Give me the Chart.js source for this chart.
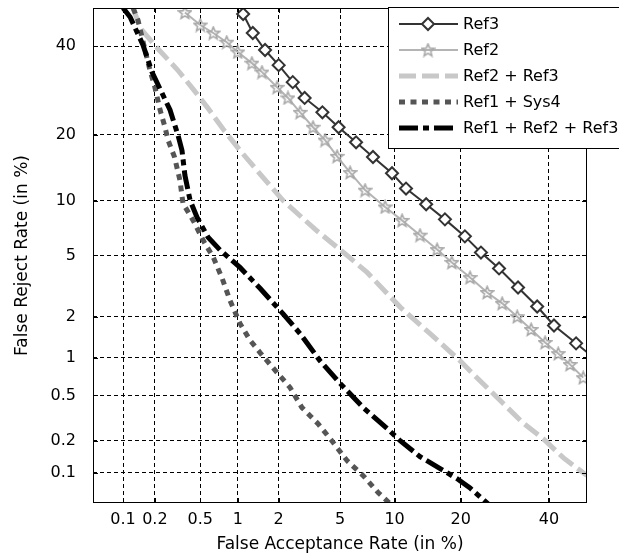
<!DOCTYPE html>
<html>
<head>
<meta charset="utf-8">
<title>DET curves</title>
<script src="https://cdn.jsdelivr.net/npm/chart.js@4.4.0/dist/chart.umd.min.js"></script>
<style>
  html, body { margin: 0; padding: 0; background: #fff; }
</style>
</head>
<body>
<canvas id="det" width="619" height="555"></canvas>
<script>
// axis ticks (in %) and range of both probit axes
const xTicks = [0.1, 0.2, 0.5, 1, 2, 5, 10, 20, 40];
const yTicks = [0.1, 0.2, 0.5, 1, 2, 5, 10, 20, 40];
const axisMin = 0.05;
const axisMax = 50;

// False Acceptance Rate / False Reject Rate per system (in %)
const ref3Far = [1.1, 1.3, 1.6, 2.0, 2.5, 3.0, 3.9, 4.9, 6.2, 7.7, 9.7, 11.4, 14.2, 17.2, 20.8, 24.0, 27.9, 32.3, 37.0, 41.3, 47.1, 54];
const ref3Frr = [48.4, 43.4, 39.0, 35.2, 31.1, 27.5, 24.4, 21.4, 18.6, 16.1, 13.6, 11.5, 9.6, 8.0, 6.45, 5.2, 4.17, 3.16, 2.36, 1.74, 1.29, 0.89];

const ref2Far = [0.37, 0.50, 0.64, 0.82, 1.0, 1.28, 1.52, 1.95, 2.32, 2.80, 3.40, 4.05, 4.8, 5.73, 6.97, 8.93, 10.9, 13.3, 15.9, 18.4, 21.8, 25.3, 28.6, 32.1, 35.5, 39.0, 42.4, 45.5, 49.0];
const ref2Frr = [48.8, 45.5, 43.4, 41.0, 38.5, 35.7, 33.5, 29.9, 27.5, 24.4, 21.4, 19.0, 16.2, 13.7, 11.3, 9.3, 7.9, 6.55, 5.42, 4.54, 3.66, 2.93, 2.48, 2.01, 1.63, 1.31, 1.08, 0.89, 0.70];

const ref23Far = [0.125, 0.146, 0.21, 0.32, 0.435, 0.57, 0.77, 1.04, 1.5, 2.14, 3.5, 5.5, 7.15, 10.7, 14.8, 19.9, 23.8, 28.8, 33.5, 38.5, 43.7, 50];
const ref23Frr = [50, 44.7, 39.5, 34.0, 29.5, 25.5, 21.0, 17.2, 13.3, 10.05, 7.07, 5.0, 3.94, 2.33, 1.52, 0.95, 0.66, 0.43, 0.29, 0.21, 0.14, 0.094];

const ref1sys4Far = [0.125, 0.139, 0.162, 0.18, 0.20, 0.223, 0.247, 0.263, 0.30, 0.335, 0.356, 0.435, 0.53, 0.64, 0.75, 0.87, 1.04, 1.24, 1.47, 1.89, 2.40, 2.88, 3.66, 4.47, 5.5, 6.8, 8.2, 9.5];
const ref1sys4Frr = [50, 46.8, 39.0, 34.0, 29.9, 24.9, 21.4, 19.0, 16.1, 12.6, 9.7, 7.9, 6.1, 4.87, 3.66, 2.6, 1.8, 1.36, 1.10, 0.80, 0.58, 0.395, 0.286, 0.20, 0.131, 0.094, 0.064, 0.049];

const ref123Far = [0.1, 0.117, 0.155, 0.188, 0.21, 0.274, 0.322, 0.349, 0.37, 0.41, 0.47, 0.58, 0.73, 1.04, 1.47, 2.14, 2.80, 3.77, 5.0, 6.8, 9.15, 10.7, 13.3, 16.4, 19.3, 21.8, 25.5];
const ref123Frr = [50, 47.6, 40.3, 33.5, 30.9, 24.9, 19.9, 17.2, 13.3, 10.05, 8.2, 6.37, 5.36, 4.23, 3.12, 2.11, 1.52, 0.95, 0.63, 0.395, 0.26, 0.20, 0.143, 0.11, 0.088, 0.071, 0.049];

const FONT = '"DejaVu Sans", "Liberation Sans", sans-serif';

// inverse normal CDF (Acklam's approximation)
function probit(p) {
  const a = [-3.969683028665376e+01, 2.209460984245205e+02, -2.759285104469687e+02, 1.383577518672690e+02, -3.066479806614716e+01, 2.506628277459239e+00];
  const b = [-5.447609879822406e+01, 1.615858368580409e+02, -1.556989798598866e+02, 6.680131188771972e+01, -1.328068155288572e+01];
  const c = [-7.784894002430293e-03, -3.223964580411365e-01, -2.400758277161838e+00, -2.549732539343734e+00, 4.374664141464968e+00, 2.938163982698783e+00];
  const d = [7.784695709041462e-03, 3.224671290700398e-01, 2.445134137142996e+00, 3.754408661907416e+00];
  const lo = 0.02425;
  if (p < lo) {
    const q = Math.sqrt(-2 * Math.log(p));
    return (((((c[0]*q + c[1])*q + c[2])*q + c[3])*q + c[4])*q + c[5]) / ((((d[0]*q + d[1])*q + d[2])*q + d[3])*q + 1);
  }
  if (p <= 1 - lo) {
    const q = p - 0.5, r = q * q;
    return (((((a[0]*r + a[1])*r + a[2])*r + a[3])*r + a[4])*r + a[5]) * q / (((((b[0]*r + b[1])*r + b[2])*r + b[3])*r + b[4])*r + 1);
  }
  const q = Math.sqrt(-2 * Math.log(1 - p));
  return -(((((c[0]*q + c[1])*q + c[2])*q + c[3])*q + c[4])*q + c[5]) / ((((d[0]*q + d[1])*q + d[2])*q + d[3])*q + 1);
}

function normCdf(z) {
  const t = 1 / (1 + 0.3275911 * Math.abs(z) / Math.SQRT2);
  const e = 1 - (((((1.061405429*t - 1.453152027)*t) + 1.421413741)*t - 0.284496736)*t + 0.254829592) * t * Math.exp(-z*z/2);
  return z >= 0 ? (1 + e) / 2 : (1 - e) / 2;
}

// normal deviate scale, values given in percent
class ProbitScale extends Chart.Scale {
  static id = 'probit';
  static defaults = {};
  determineDataLimits() {
    this.min = this.options.min;
    this.max = this.options.max;
  }
  buildTicks() { return []; }
  getLabelForValue(v) { return String(v); }
  configure() {
    super.configure();
    this._pLo = probit(this.min / 100);
    this._pSpan = probit(this.max / 100) - this._pLo;
  }
  getPixelForValue(v) {
    if (v === null || v === undefined || isNaN(v)) return NaN;
    return this.getPixelForDecimal((probit(v / 100) - this._pLo) / this._pSpan);
  }
  getValueForPixel(px) {
    return normCdf(this._pLo + this.getDecimalForPixel(px) * this._pSpan) * 100;
  }
}
Chart.register(ProbitScale);

function pairs(xs, ys) { return xs.map((x, i) => ({x: x, y: ys[i]})); }

function makeStar(size, color) {
  const c = document.createElement('canvas');
  c.width = c.height = size;
  const g = c.getContext('2d');
  const r = size / 2 - 1, ri = r * 0.45, cx = size / 2, cy = size / 2 + 0.5;
  g.beginPath();
  for (let k = 0; k < 10; k++) {
    const ang = -Math.PI / 2 + k * Math.PI / 5;
    const rr = k % 2 ? ri : r;
    g.lineTo(cx + rr * Math.cos(ang), cy + rr * Math.sin(ang));
  }
  g.closePath();
  g.strokeStyle = color;
  g.lineWidth = 1.6;
  g.stroke();
  return c;
}
const starImg = makeStar(15, '#a8a8a8');

// keep the plot box fixed: no extra room for half tick labels
function fixPadding(s) {
  s.paddingTop = 0; s.paddingBottom = 0; s.paddingLeft = 0; s.paddingRight = 0;
}

const framePlugin = {
  id: 'frame',
  afterDatasetsDraw(chart) {
    const {ctx, chartArea: a, scales: {x, y}} = chart;
    ctx.save();
    ctx.strokeStyle = '#000';
    ctx.lineWidth = 1;
    ctx.strokeRect(a.left + 0.5, a.top + 0.5, a.right - a.left - 1, a.bottom - a.top - 1);
    ctx.beginPath();
    x.ticks.forEach(t => {
      const px = Math.round(x.getPixelForValue(t.value)) + 0.5;
      ctx.moveTo(px, a.bottom); ctx.lineTo(px, a.bottom - 5);
      ctx.moveTo(px, a.top); ctx.lineTo(px, a.top + 5);
    });
    y.ticks.forEach(t => {
      const py = Math.round(y.getPixelForValue(t.value)) + 0.5;
      ctx.moveTo(a.left, py); ctx.lineTo(a.left + 5, py);
      ctx.moveTo(a.right, py); ctx.lineTo(a.right - 5, py);
    });
    ctx.stroke();
    ctx.restore();
  }
};

const legendPlugin = {
  id: 'legendBox',
  afterDraw(chart) {
    const ctx = chart.ctx;
    const left = 388, top = 7, right = 640, bottom = 148;
    ctx.save();
    ctx.fillStyle = '#fff';
    ctx.fillRect(left, top, right - left, bottom - top);
    ctx.strokeStyle = '#000';
    ctx.lineWidth = 1;
    ctx.strokeRect(left + 0.5, top + 0.5, right - left, bottom - top);
    chart.data.datasets.forEach((ds, i) => {
      const yy = 24 + i * 26;
      ctx.save();
      ctx.strokeStyle = ds.borderColor;
      ctx.lineWidth = ds.borderWidth;
      ctx.setLineDash(ds.borderDash || []);
      ctx.beginPath();
      ctx.moveTo(399, yy);
      ctx.lineTo(458, yy);
      ctx.stroke();
      ctx.restore();
      if (ds.pointRadius > 0) {
        ctx.save();
        ctx.fillStyle = ds.pointBackgroundColor;
        ctx.strokeStyle = ds.pointBorderColor;
        ctx.lineWidth = ds.pointBorderWidth;
        Chart.helpers.drawPoint(ctx, {pointStyle: ds.pointStyle, radius: ds.pointRadius, borderWidth: ds.pointBorderWidth, rotation: 0}, 428, yy);
        ctx.restore();
      }
      ctx.fillStyle = '#000';
      ctx.font = '16px ' + FONT;
      ctx.textBaseline = 'middle';
      ctx.fillText(ds.label, 463, yy + 1);
    });
    ctx.restore();
  }
};

const gridStyle = {color: '#000', lineWidth: 1, drawTicks: false, tickLength: 0};
const borderStyle = {display: false, dash: [4, 3]};

new Chart(document.getElementById('det'), {
  type: 'line',
  data: {
    datasets: [
      {label: 'Ref3', data: pairs(ref3Far, ref3Frr), borderColor: '#333', borderWidth: 2,
       pointStyle: 'rectRot', pointRadius: 6, pointBorderWidth: 2, pointBorderColor: '#333', pointBackgroundColor: '#fff', order: 4},
      {label: 'Ref2', data: pairs(ref2Far, ref2Frr), borderColor: '#b4b4b4', borderWidth: 2,
       pointStyle: starImg, pointRadius: 7, pointBorderWidth: 0, pointBorderColor: '#a8a8a8', pointBackgroundColor: 'rgba(0,0,0,0)', order: 3},
      {label: 'Ref2 + Ref3', data: pairs(ref23Far, ref23Frr), borderColor: '#c8c8c8', borderWidth: 5,
       borderDash: [17, 6], pointRadius: 0, order: 2},
      {label: 'Ref1 + Sys4', data: pairs(ref1sys4Far, ref1sys4Frr), borderColor: '#555', borderWidth: 5,
       borderDash: [6, 5.5], pointRadius: 0, order: 1},
      {label: 'Ref1 + Ref2 + Ref3', data: pairs(ref123Far, ref123Frr), borderColor: '#000', borderWidth: 5,
       borderDash: [19, 5, 6, 5], pointRadius: 0, order: 0}
    ]
  },
  options: {
    responsive: false,
    devicePixelRatio: 1,
    animation: false,
    clip: 0,
    tension: 0,
    layout: {padding: {top: 8, right: 32, left: 0, bottom: 0}},
    scales: {
      x: {
        type: 'probit', position: 'bottom', min: axisMin, max: axisMax,
        afterBuildTicks: s => { s.ticks = xTicks.map(v => ({value: v})); },
        afterFit: s => { s.height = 52; fixPadding(s); },
        grid: gridStyle, border: borderStyle,
        ticks: {autoSkip: false, maxRotation: 0, padding: 7, color: '#000', font: {family: FONT, size: 16}},
        title: {display: true, text: 'False Acceptance Rate (in %)', color: '#000', font: {family: FONT, size: 17}, padding: {top: 0, bottom: 0}}
      },
      y: {
        type: 'probit', position: 'left', min: axisMin, max: axisMax,
        afterBuildTicks: s => { s.ticks = yTicks.map(v => ({value: v})); },
        afterFit: s => { s.width = 93; fixPadding(s); },
        grid: gridStyle, border: borderStyle,
        ticks: {autoSkip: false, padding: 17, color: '#000', font: {family: FONT, size: 16}},
        title: {display: true, text: 'False Reject Rate (in %)', color: '#000', font: {family: FONT, size: 17}, padding: {top: 12, bottom: 0}}
      }
    },
    plugins: {legend: {display: false}, tooltip: {enabled: false}}
  },
  plugins: [framePlugin, legendPlugin]
});
</script>
</body>
</html>
